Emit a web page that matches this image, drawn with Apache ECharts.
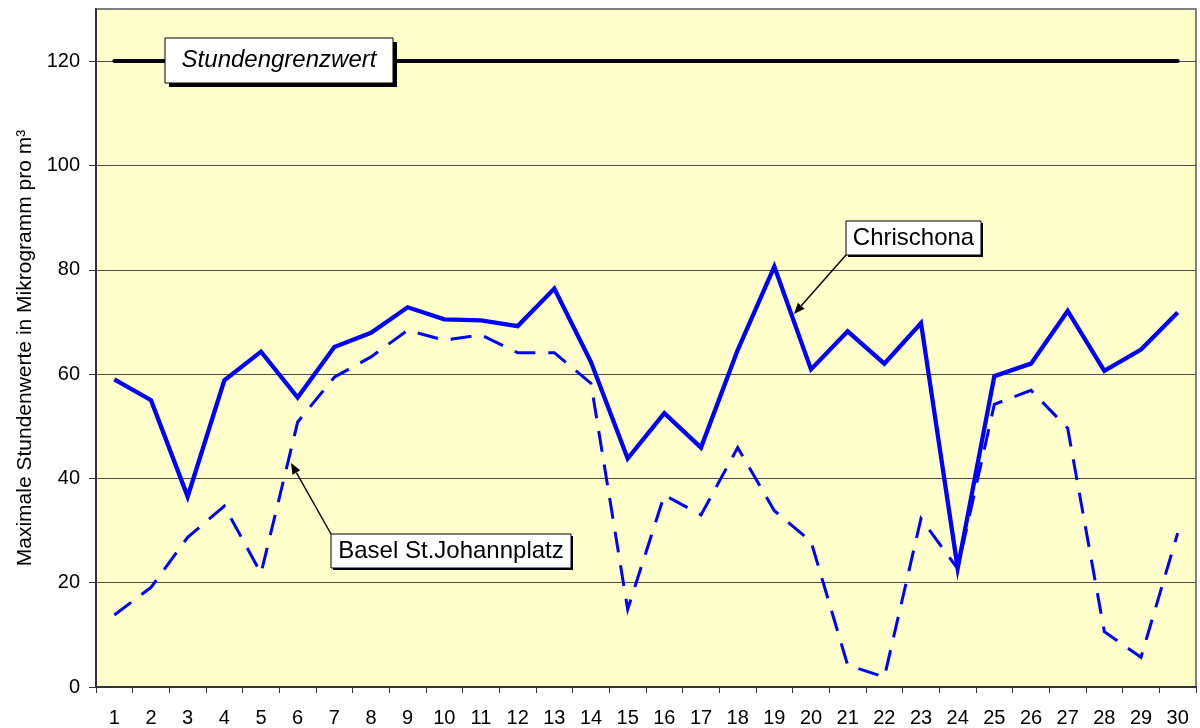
<!DOCTYPE html>
<html>
<head>
<meta charset="utf-8">
<script src="https://cdn.jsdelivr.net/npm/echarts@6/dist/echarts.min.js"></script>
<style>
  html, body { margin: 0; padding: 0; background: #fff; }
  #chart { width: 1200px; height: 728px; }
</style>
</head>
<body>
<div id="chart"></div>
<script>
// Tage des Monats
var days = ['1', '2', '3', '4', '5', '6', '7', '8', '9', '10',
  '11', '12', '13', '14', '15', '16', '17', '18', '19', '20',
  '21', '22', '23', '24', '25', '26', '27', '28', '29', '30'];

// Maximale Stundenwerte (µg/m3)
var chrischona = [59.0, 55.0, 36.5, 58.8, 64.3, 55.5, 65.2, 67.9, 72.8, 70.5,
  70.3, 69.2, 76.4, 62.3, 43.8, 52.5, 45.9, 64.6, 80.6, 60.9,
  68.2, 62.0, 69.8, 22.8, 59.6, 62.0, 72.1, 60.6, 64.7, 71.8];
var basel = [13.8, 19.1, 28.7, 34.7, 21.8, 50.8, 59.4, 63.3, 68.4, 66.5,
  67.5, 64.1, 64.1, 58.2, 14.9, 36.8, 33.0, 45.9, 33.8, 27.9,
  4.2, 1.9, 32.3, 22.7, 54.2, 56.9, 49.6, 10.6, 5.7, 29.5];

var yTicks = [0, 20, 40, 60, 80, 100, 120];
var grenzwert = 120;

var font = '"Liberation Sans", Arial, sans-serif';
var blue = '#0000FF';

var chart = echarts.init(document.getElementById('chart'), null, { renderer: 'canvas' });

// Kasten mit Schatten (Beschriftung)
function labelBox(x, y, w, h, text, italic, shadow) {
  return [{
    type: 'rect',
    z: 100,
    shape: { x: x + shadow, y: y + shadow, width: w, height: h },
    style: { fill: '#000' }
  }, {
    type: 'rect',
    z: 101,
    shape: { x: x, y: y, width: w, height: h },
    style: { fill: '#fff', stroke: '#000', lineWidth: 1 }
  }, {
    type: 'text',
    z: 102,
    x: x + w / 2,
    y: y + h / 2,
    style: {
      text: text,
      fontSize: 24,
      fontFamily: font,
      fontStyle: italic ? 'italic' : 'normal',
      fill: '#000',
      align: 'center',
      verticalAlign: 'middle'
    }
  }];
}

// Pfeil mit gefuellter Spitze
function arrow(from, to) {
  var dx = to[0] - from[0], dy = to[1] - from[1];
  var len = Math.sqrt(dx * dx + dy * dy);
  var ux = dx / len, uy = dy / len;
  var hl = 11, hw = 4.5;
  var bx = to[0] - ux * hl, by = to[1] - uy * hl;
  return [{
    type: 'line',
    z: 100,
    shape: { x1: from[0], y1: from[1], x2: bx, y2: by },
    style: { stroke: '#000', lineWidth: 1.4 }
  }, {
    type: 'polygon',
    z: 100,
    shape: { points: [to, [bx - uy * hw, by + ux * hw], [bx + uy * hw, by - ux * hw]] },
    style: { fill: '#000' }
  }];
}

var graphics = []
  .concat(labelBox(165, 38, 228, 45, 'Stundengrenzwert', true, 4))
  .concat(arrow([846, 255], [794, 314]))
  .concat(labelBox(846, 221, 135, 34, 'Chrischona', false, 2))
  .concat(arrow([331, 534], [291, 463]))
  .concat(labelBox(331, 534, 240, 34, 'Basel St.Johannplatz', false, 2));

var option = {
  animation: false,
  backgroundColor: '#fff',
  textStyle: { fontFamily: font },
  grid: {
    left: 96, right: 4, top: 9, bottom: 41,
    show: true,
    backgroundColor: '#FFFFCC',
    borderColor: '#808080',
    borderWidth: 2
  },
  xAxis: {
    type: 'category',
    data: days,
    boundaryGap: true,
    axisLine: { lineStyle: { color: '#333', width: 2 } },
    axisTick: { show: true, length: 6, lineStyle: { color: '#333', width: 1 } },
    axisLabel: { color: '#000', fontSize: 20, fontFamily: font, margin: 21, interval: 0 },
    splitLine: { show: false }
  },
  yAxis: {
    type: 'value',
    min: 0,
    max: 130,
    interval: 20,
    name: 'Maximale Stundenwerte in Mikrogramm pro m³',
    nameLocation: 'middle',
    nameRotate: 90,
    nameGap: 60,
    nameTextStyle: { color: '#000', fontSize: 21, fontFamily: font },
    axisLine: { show: true, lineStyle: { color: '#333', width: 2 } },
    axisTick: { show: true, length: 7, customValues: yTicks, lineStyle: { color: '#333', width: 1 } },
    axisLabel: { color: '#000', fontSize: 20, fontFamily: font, margin: 16, customValues: yTicks },
    splitLine: { show: true, lineStyle: { color: '#4d4d4d', width: 1 } }
  },
  series: [{
    name: 'Basel St.Johannplatz',
    type: 'line',
    data: basel,
    symbol: 'none',
    lineStyle: { color: blue, width: 3, type: [21, 13], join: 'miter' },
    z: 3
  }, {
    name: 'Chrischona',
    type: 'line',
    data: chrischona,
    symbol: 'none',
    lineStyle: { color: blue, width: 4.3, join: 'miter' },
    z: 4,
    markLine: {
      silent: true,
      symbol: 'none',
      label: { show: false },
      lineStyle: { color: '#000', width: 4, type: 'solid', cap: 'round' },
      data: [[{ coord: [days[0], grenzwert] }, { coord: [days[days.length - 1], grenzwert] }]]
    }
  }],
  graphic: graphics
};

chart.setOption(option);
</script>
</body>
</html>
